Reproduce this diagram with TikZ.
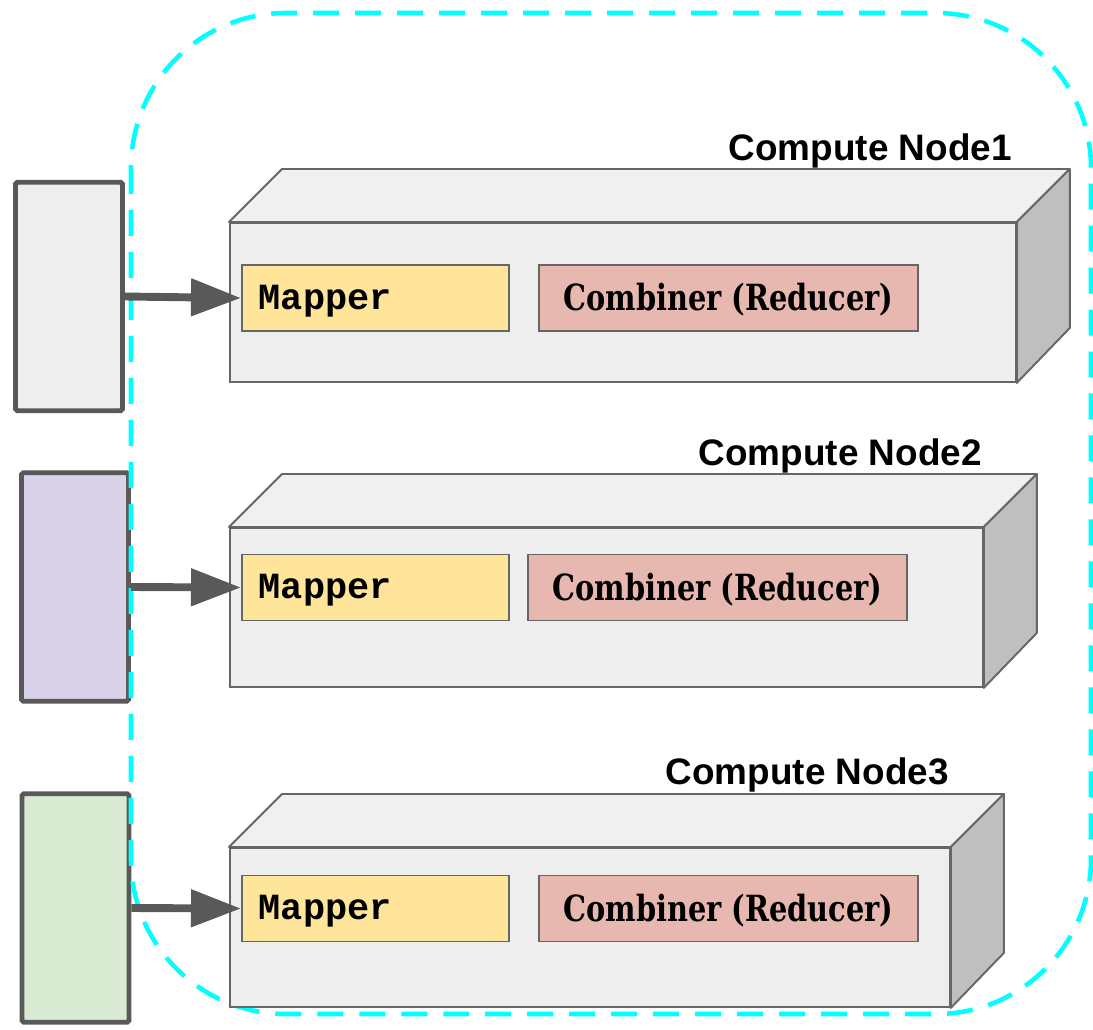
\documentclass[tikz,border=0pt]{standalone}
\usepackage{fontspec}
\newfontfamily\headfont{Liberation Sans}
\newfontfamily\mapfont{Liberation Mono}
\newfontfamily\combfont{DejaVu Serif}[FakeStretch=0.8]
\usetikzlibrary{arrows.meta}

\definecolor{edgegray}{HTML}{595959}
\definecolor{boxgray}{HTML}{666666}
\definecolor{frontgray}{HTML}{EEEEEE}
\definecolor{topgray}{HTML}{F0F0F0}
\definecolor{sidegray}{HTML}{BFBFBF}
\definecolor{mapyellow}{HTML}{FFE599}
\definecolor{combred}{HTML}{E6B8AF}
\definecolor{splitlilac}{HTML}{D9D2E9}
\definecolor{splitgreen}{HTML}{D9EAD3}
\definecolor{clustercyan}{HTML}{00FFFF}

\tikzset{
	inbox/.style={draw=edgegray, line width=2.8pt, rounded corners=1pt, minimum width=2.14cm, minimum height=4.57cm, inner sep=0pt},
	front/.style={draw=boxgray, line width=1.1pt, fill=frontgray, minimum width=15.72cm, minimum height=3.18cm, inner sep=0pt, anchor=north west},
	face/.style={draw=boxgray, line width=1.1pt, line join=round},
	mapbox/.style={draw=boxgray, line width=0.9pt, fill=mapyellow, minimum height=1.32cm, inner xsep=0.34cm, text width=4.66cm, text height=0.44cm, text depth=0pt, align=left, anchor=west, font=\mapfont\bfseries\fontsize{21}{25}\selectfont},
	combbox/.style={draw=boxgray, line width=0.9pt, fill=combred, minimum height=1.32cm, minimum width=7.58cm, text height=0.5cm, text depth=0pt, font=\combfont\bfseries\fontsize{20.5}{25}\selectfont},
	title/.style={anchor=base east, inner sep=0pt, font=\headfont\bfseries\fontsize{21}{25}\selectfont},
	flow/.style={draw=edgegray, line width=4.5pt, -{Triangle[length=1cm,width=0.72cm]}}
}

\begin{document}
\begin{tikzpicture}[x=0.02cm, y=-0.02cm]
	\useasboundingbox (0,0) rectangle (1093,1029);

	% input splits
	\node[inbox, fill=frontgray] (in1) at (69,296.5) {};
	\node[inbox, fill=splitlilac] (in2) at (75,587) {};
	\node[inbox, fill=splitgreen] (in3) at (75.5,908) {};

	% cluster
	\draw[clustercyan, line width=2.6pt, dash pattern=on 0.52cm off 0.32cm, rounded corners=3.1cm] (131,13) rectangle (1091,1014);

	% compute node 1
	\node[front, minimum width=15.72cm] (cn1) at (229,222) {};
	\draw[face, fill=topgray] (cn1.north west) -- ++(53,-53) -- ([shift={(53,-53)}]cn1.north east) -- (cn1.north east) -- cycle;
	\draw[face, fill=sidegray] (cn1.north east) -- ++(53,-53) -- ++(0,159) -- (cn1.south east) -- cycle;
	\node[title] (t1) at (1012,160) {Compute Node1};
	\node[mapbox] (map1) at (241,298) {Mapper};
	\node[combbox] (comb1) at (728.5,298) {Combiner (Reducer)};

	% compute node 2
	\node[front, minimum width=15.06cm] (cn2) at (229,527) {};
	\draw[face, fill=topgray] (cn2.north west) -- ++(53,-53) -- ([shift={(53,-53)}]cn2.north east) -- (cn2.north east) -- cycle;
	\draw[face, fill=sidegray] (cn2.north east) -- ++(53,-53) -- ++(0,159) -- (cn2.south east) -- cycle;
	\node[title] (t2) at (982,465) {Compute Node2};
	\node[mapbox] (map2) at (241,587.5) {Mapper};
	\node[combbox] (comb2) at (717.5,587.5) {Combiner (Reducer)};

	% compute node 3
	\node[front, minimum width=14.4cm] (cn3) at (229,847) {};
	\draw[face, fill=topgray] (cn3.north west) -- ++(53,-53) -- ([shift={(53,-53)}]cn3.north east) -- (cn3.north east) -- cycle;
	\draw[face, fill=sidegray] (cn3.north east) -- ++(53,-53) -- ++(0,159) -- (cn3.south east) -- cycle;
	\node[title] (t3) at (949,784) {Compute Node3};
	\node[mapbox] (map3) at (241,908.5) {Mapper};
	\node[combbox] (comb3) at (728.5,908.5) {Combiner (Reducer)};

	% splits to mappers
	\draw[flow] (in1.east) -- (map1.west);
	\draw[flow] (in2.east) -- (map2.west);
	\draw[flow] (in3.east) -- (map3.west);
\end{tikzpicture}
\end{document}
